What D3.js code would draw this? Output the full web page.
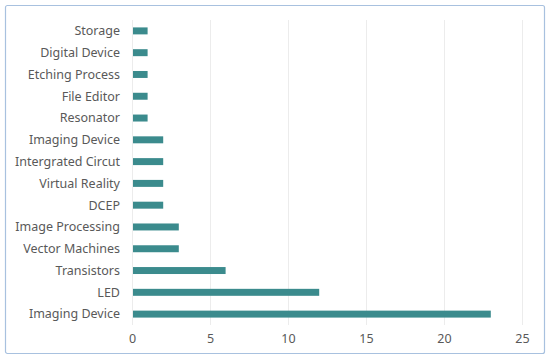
<!DOCTYPE html>
<html><head><meta charset="utf-8">
<script src="https://cdn.jsdelivr.net/npm/d3@7"></script>
<style>body{margin:0;background:#fff}svg{display:block}</style>
</head><body><div id="chart"></div>
<script>
const categories = ["Storage","Digital Device","Etching Process","File Editor","Resonator","Imaging Device","Intergrated Circut","Virtual Reality","DCEP","Image Processing","Vector Machines","Transistors","LED","Imaging Device"];
const values = [1,1,1,1,1,2,2,2,2,3,3,6,12,23];
const xTicks = [0,5,10,15,20,25];

const W = 550, H = 358;
const m = {left:132, right:28, top:20, bottom:33};
const svg = d3.select("#chart").append("svg").attr("width",W).attr("height",H);
svg.append("rect").attr("x",5.5).attr("y",5.5).attr("width",539).attr("height",348)
  .attr("rx",2).attr("fill","#fff").attr("stroke","#a8c1df").attr("stroke-width",1.2);

const x = d3.scaleLinear().domain([0,25]).range([m.left, W-m.right]);
const y = d3.scaleBand().domain(categories.map((d,i)=>i)).range([m.top, H-m.bottom]).paddingInner(0.68).paddingOuter(0.34);

svg.append("g").selectAll("line").data(xTicks).join("line")
  .attr("x1",d=>x(d)+0.5).attr("x2",d=>x(d)+0.5).attr("y1",m.top).attr("y2",H-m.bottom)
  .attr("stroke","#ececec").attr("stroke-width",1);

svg.append("g").selectAll("rect").data(values).join("rect")
  .attr("x",x(0)+1).attr("y",(d,i)=>y(i)).attr("height",y.bandwidth())
  .attr("width",d=>x(d)-x(0)-1).attr("fill","#3b8b8d");

const font = "'Noto Sans', 'Open Sans', sans-serif";
svg.append("g").selectAll("text").data(categories).join("text")
  .attr("x",m.left-12).attr("y",(d,i)=>y(i)+y.bandwidth()/2).attr("dy","0.35em")
  .attr("text-anchor","end").attr("font-family",font).attr("font-size",12.5).attr("fill","#595959")
  .text(d=>d);

const xAxis = d3.axisBottom(x).tickValues(xTicks).tickSize(0).tickPadding(0);
const ga = svg.append("g").attr("transform",`translate(0,${H-m.bottom+14})`).call(xAxis);
ga.select(".domain").remove();
ga.selectAll("text").attr("font-family",font).attr("font-size",12.5).attr("fill","#595959").attr("dy","0.35em");
</script></body></html>
